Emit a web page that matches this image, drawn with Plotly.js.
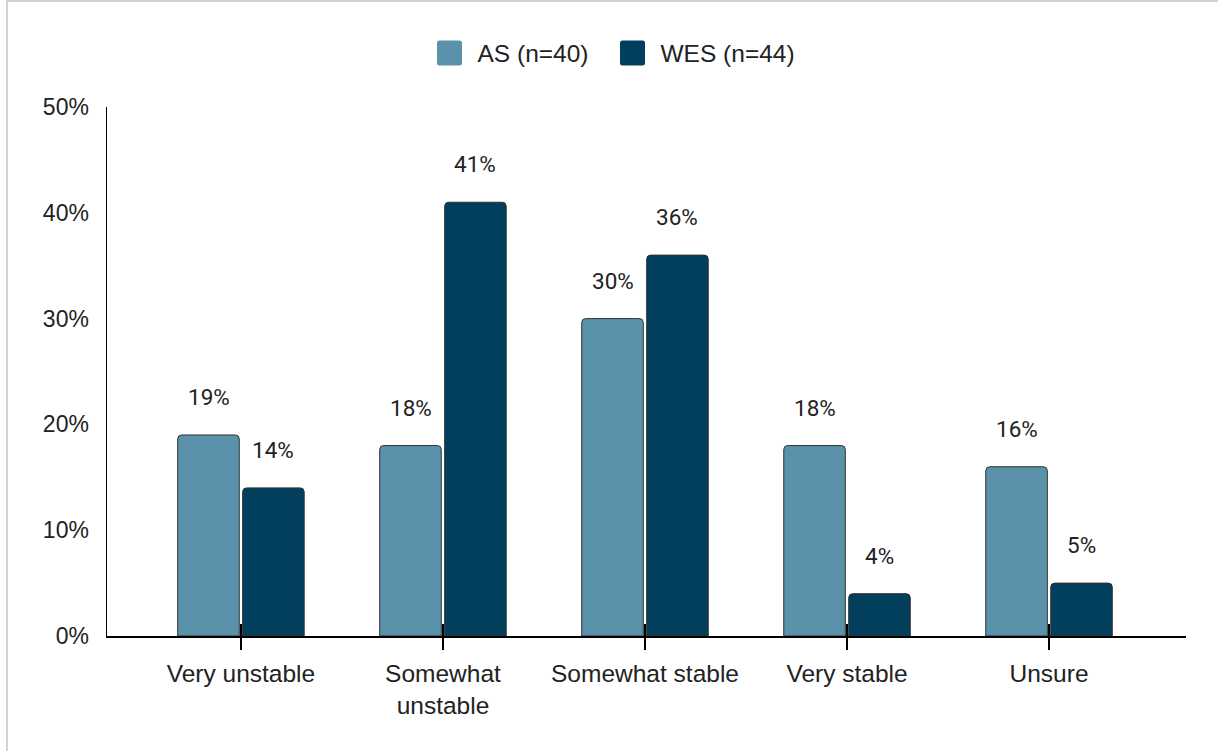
<!DOCTYPE html>
<html>
<head>
<meta charset="utf-8">
<script src="https://cdn.plot.ly/plotly-3.0.1.min.js"></script>
<style>
  html, body { margin: 0; padding: 0; background: #fff; }
  #wrap { position: relative; width: 1218px; height: 751px; overflow: hidden; }
  #chart { position: absolute; left: 0; top: 0; width: 1218px; height: 751px; }
  #frame { position: absolute; left: 6px; top: 0px; width: 1300px; height: 900px;
           border-left: 2px solid #d2d2d2; border-top: 2px solid #d2d2d2; pointer-events: none; }
</style>
</head>
<body>
<div id="wrap">
  <div id="chart"></div>
  <div id="frame"></div>
</div>
<script>
const categories = ['Very unstable', 'Somewhat<br>unstable', 'Somewhat stable', 'Very stable', 'Unsure'];
const seriesNames = ['AS (n=40)', 'WES (n=44)'];
const asValues = [19, 18, 30, 18, 16];
const wesValues = [14, 41, 36, 4, 5];
const yTickValues = [0, 10, 20, 30, 40, 50];

const colorAS = '#5a91ab';
const colorWES = '#023f5d';
const yFont = { family: '"Liberation Sans", Arial, sans-serif', size: 23, color: '#222' };
const xFont = { family: '"Liberation Sans", Arial, sans-serif', size: 24.5, color: '#222' };
const legendFont = { family: '"Liberation Sans", Arial, sans-serif', size: 24.5, color: '#222' };
const labelFont = { family: 'Roboto, sans-serif', size: 22.5, color: '#222' };

const traces = [
  {
    type: 'bar', name: seriesNames[0], x: categories, y: asValues, legend: 'legend',
    marker: { color: colorAS, line: { color: '#333', width: 1 }, cornerradius: 4 },
    hoverinfo: 'skip'
  },
  {
    type: 'bar', name: seriesNames[1], x: categories, y: wesValues, legend: 'legend2',
    marker: { color: colorWES, line: { color: '#333', width: 1 }, cornerradius: 4 },
    hoverinfo: 'skip'
  },
  {
    // helper so the overlaid tick axis (ticks crossing the baseline) gets drawn
    type: 'scatter', mode: 'markers', x: [0], y: [0], xaxis: 'x2', yaxis: 'y',
    marker: { opacity: 0, size: 1 }, showlegend: false, hoverinfo: 'skip'
  }
];

const annotations = [];
[asValues, wesValues].forEach((vals, s) => {
  vals.forEach((v, i) => {
    annotations.push({
      x: categories[i], y: v, xref: 'x', yref: 'y',
      text: v + '%', showarrow: false,
      xanchor: 'center', yanchor: 'middle',
      xshift: s === 0 ? -32 : 32.5, yshift: 38,
      font: labelFont
    });
  });
});

const legendBase = {
  orientation: 'h', xref: 'container', yref: 'container',
  xanchor: 'left', y: 1 - 53 / 751, yanchor: 'middle',
  font: legendFont, itemwidth: 46, traceorder: 'normal',
  itemclick: false, itemdoubleclick: false, bgcolor: 'rgba(0,0,0,0)'
};

const layout = {
  width: 1218, height: 751,
  margin: { l: 107, r: 32, t: 107, b: 115 },
  paper_bgcolor: 'rgba(0,0,0,0)', plot_bgcolor: '#fff',
  barmode: 'group', bargap: 0.357, bargroupgap: 0.052,
  showlegend: true,
  legend: Object.assign({}, legendBase, { x: 421.5 / 1218 }),
  legend2: Object.assign({}, legendBase, { x: 604.5 / 1218 }),
  xaxis: {
    type: 'category', range: [-0.663, 4.678],
    showline: true, linecolor: '#000', linewidth: 1.5,
    ticks: 'outside', ticklen: 12, tickwidth: 1.5, tickcolor: '#000',
    ticklabelstandoff: 3,
    tickfont: xFont, showgrid: false, zeroline: false, fixedrange: true
  },
  xaxis2: {
    overlaying: 'x', anchor: 'y', side: 'bottom', type: 'linear',
    range: [-0.663, 4.678], tickmode: 'array', tickvals: [0, 1, 2, 3, 4],
    ticks: 'inside', ticklen: 12, tickwidth: 1.5, tickcolor: '#000',
    showticklabels: false, showline: false, showgrid: false, zeroline: false, fixedrange: true
  },
  yaxis: {
    range: [0, 50], tickmode: 'array', tickvals: yTickValues,
    ticktext: yTickValues.map(v => v + '%'),
    showline: true, linecolor: '#000', linewidth: 1.5,
    ticks: '', ticklabelstandoff: 12,
    tickfont: yFont, showgrid: false, zeroline: false, fixedrange: true
  },
  annotations: annotations
};

Plotly.newPlot('chart', traces, layout, { displayModeBar: false, staticPlot: true }).then(gd => {
  const r = 12.5, c = 2.5;
  const d = `M${-r},${-r + c}A${c},${c} 0 0 1 ${-r + c},${-r}H${r - c}A${c},${c} 0 0 1 ${r},${-r + c}` +
            `V${r - c}A${c},${c} 0 0 1 ${r - c},${r}H${-r + c}A${c},${c} 0 0 1 ${-r},${r - c}Z`;
  gd.querySelectorAll('.legendpoints path').forEach(p => {
    p.setAttribute('d', d);
    p.style.strokeWidth = '0';
  });
});
</script>
</body>
</html>
